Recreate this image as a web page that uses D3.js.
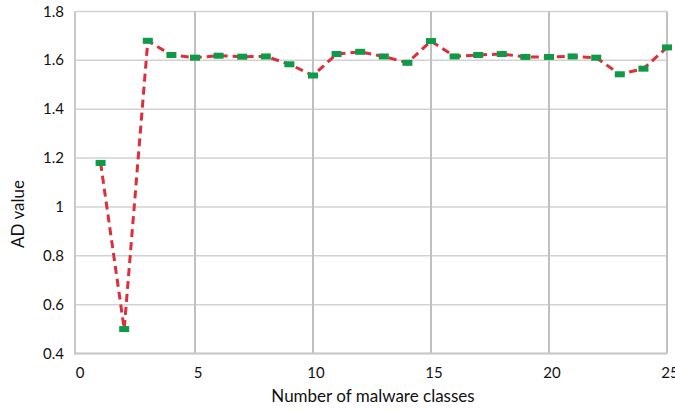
<!DOCTYPE html>
<html><head><meta charset="utf-8">
<script src="https://cdn.jsdelivr.net/npm/d3@7"></script>
<style>body{margin:0;background:#fff;} text{font-family:Lato, "Open Sans", sans-serif;fill:#111;}</style>
</head><body><svg id="c" width="675" height="411"></svg>
<script>
const classes = [1,2,3,4,5,6,7,8,9,10,11,12,13,14,15,16,17,18,19,20,21,22,23,24,25];
const adValues = [1.18,0.50,1.68,1.622,1.611,1.619,1.615,1.616,1.584,1.538,1.626,1.635,1.616,1.590,1.679,1.616,1.622,1.626,1.614,1.614,1.616,1.611,1.543,1.566,1.653];
const xTicks = [0,5,10,15,20,25];
const yTicks = [0.4,0.6,0.8,1,1.2,1.4,1.6,1.8];
const yTickLabels = ["0.4","0.6","0.8","1","1.2","1.4","1.6","1.8"];

const svg = d3.select("#c");
const x = d3.scaleLinear().domain([0,25]).range([77,667]);
const y = d3.scaleLinear().domain([0.4,1.8]).range([353.5,11.5]);

// horizontal grid
svg.append("g").selectAll("line").data(yTicks).join("line")
  .attr("x1",75).attr("x2",667).attr("y1",d=>y(d)).attr("y2",d=>y(d))
  .attr("stroke","#d2d2d2").attr("stroke-width",1.5);
// vertical grid
svg.append("g").selectAll("line").data(xTicks.slice(1)).join("line")
  .attr("x1",d=>x(d)).attr("x2",d=>x(d)).attr("y1",y(1.8)).attr("y2",y(0.4))
  .attr("stroke","#c0c0c0").attr("stroke-width",2);
// left and bottom axis lines
svg.append("line").attr("x1",75).attr("x2",75).attr("y1",y(1.8)).attr("y2",y(0.4)+1)
  .attr("stroke","#c8c8c8").attr("stroke-width",2);
svg.append("line").attr("x1",75).attr("x2",667).attr("y1",y(0.4)).attr("y2",y(0.4))
  .attr("stroke","#c8c8c8").attr("stroke-width",2);

// tick labels
svg.append("g").selectAll("text").data(yTicks).join("text")
  .attr("x",64).attr("y",d=>y(d)+5).attr("text-anchor","end")
  .attr("font-size",15).text((d,i)=>yTickLabels[i]);
svg.append("g").selectAll("text").data(xTicks).join("text")
  .attr("x",d=>x(d)+3).attr("y",378).attr("text-anchor","middle")
  .attr("font-size",15).text(d=>d);

// titles
svg.append("text").attr("x",373).attr("y",402).attr("text-anchor","middle")
  .attr("font-size",17).text("Number of malware classes");
svg.append("text").attr("transform","translate(24,214) rotate(-90)").attr("text-anchor","middle")
  .attr("font-size",17).text("AD value");

// line
const line = d3.line().x((d,i)=>x(classes[i])).y(d=>y(d));
svg.append("path").datum(adValues).attr("d",line).attr("fill","none")
  .attr("stroke","#dc2f3a").attr("stroke-width",3).attr("stroke-dasharray","8,5");
// markers
svg.append("g").selectAll("rect").data(adValues).join("rect")
  .attr("x",(d,i)=>x(classes[i])-5).attr("y",d=>y(d)-3).attr("width",10).attr("height",6)
  .attr("fill","#0e9a48");
</script></body></html>
